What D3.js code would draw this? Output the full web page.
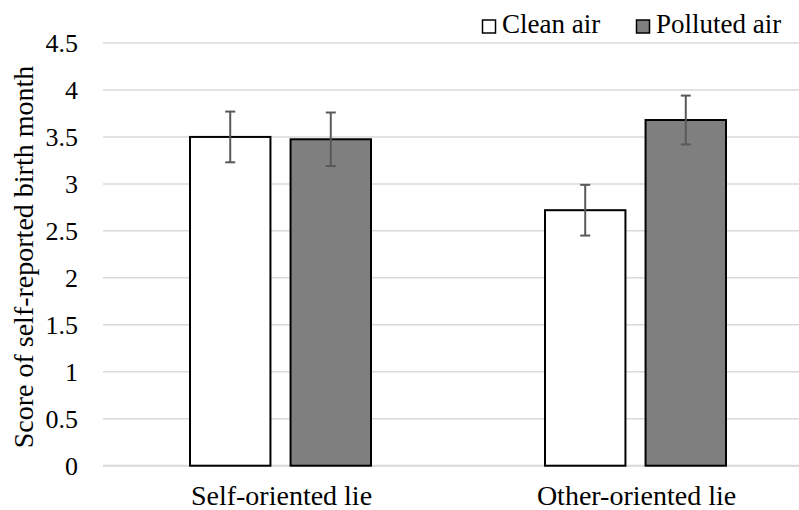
<!DOCTYPE html>
<html>
<head>
<meta charset="utf-8">
<script src="https://cdn.jsdelivr.net/npm/d3@7/dist/d3.min.js"></script>
<style>
  body { margin: 0; background: #fff; }
</style>
</head>
<body>
<div id="chart"></div>
<script>
var categories = ["Self-oriented lie", "Other-oriented lie"];
var series = ["Clean air", "Polluted air"];
var cleanAir = [3.50, 2.72];
var pollutedAir = [3.475, 3.68];
var cleanErr = [0.27, 0.27];
var pollutedErr = [0.285, 0.26];
var yTicks = [0, 0.5, 1, 1.5, 2, 2.5, 3, 3.5, 4, 4.5];
var fills = ["#ffffff", "#7f7f7f"];

var width = 799, height = 510;

var svg = d3.select("#chart")
  .append("svg")
  .attr("width", width)
  .attr("height", height);

var y = d3.scaleLinear()
  .domain([0, 4.5])
  .range([465.7, 43]);

// plot area runs off the right edge like in the source figure
var x0 = d3.scaleBand()
  .domain(categories)
  .range([103, 813]);

var x1 = d3.scaleBand()
  .domain(series)
  .range([x0.bandwidth() / 2 - 90.5, x0.bandwidth() / 2 + 90.5])
  .paddingInner(0.2);

// gridlines
svg.append("g")
  .selectAll("line.grid")
  .data(yTicks)
  .enter()
  .append("line")
  .attr("class", "grid")
  .attr("x1", 103)
  .attr("x2", width)
  .attr("y1", function(d){ return y(d); })
  .attr("y2", function(d){ return y(d); })
  .attr("stroke", "#d9d9d9")
  .attr("stroke-width", function(d){ return d == 0 ? 2 : 1.5; });

// y axis labels
var yAxis = d3.axisLeft(y)
  .tickValues(yTicks)
  .tickSize(0)
  .tickPadding(0)
  .tickFormat(d3.format(""));

var yg = svg.append("g")
  .attr("transform", "translate(78,0)")
  .call(yAxis);
yg.select(".domain").remove();
yg.selectAll("text")
  .attr("style", "font-family: 'Liberation Serif', serif; font-size: 26px")
  .attr("fill", "#000")
  .attr("dy", "0.34em");

// y title
svg.append("text")
  .attr("transform", "translate(33,257) rotate(-90)")
  .attr("text-anchor", "middle")
  .style("font-family", "serif")
  .style("font-size", "28px")
  .style("fill", "#000")
  .text("Score of self-reported birth month");

var rows = categories.map(function(c, i){
  return {
    cat: c,
    vals: [
      { s: series[0], v: cleanAir[i], e: cleanErr[i] },
      { s: series[1], v: pollutedAir[i], e: pollutedErr[i] }
    ]
  };
});

var groups = svg.selectAll("g.cat")
  .data(rows)
  .enter()
  .append("g")
  .attr("class", "cat")
  .attr("transform", function(d){ return "translate(" + x0(d.cat) + ",0)"; });

groups.selectAll("rect.bars")
  .data(function(d){ return d.vals; })
  .enter()
  .append("rect")
  .attr("class", "bars")
  .attr("x", function(d){ return x1(d.s); })
  .attr("width", x1.bandwidth())
  .attr("y", function(d){ return y(d.v); })
  .attr("height", function(d){ return y(0) - y(d.v); })
  .attr("fill", function(d, i){ return fills[i]; })
  .attr("stroke", "#000")
  .attr("stroke-width", 2);

// error bars
var err = groups.selectAll("g.err")
  .data(function(d){ return d.vals; })
  .enter()
  .append("g")
  .attr("class", "err")
  .attr("stroke", "#595959")
  .attr("stroke-width", 2);

err.append("line")
  .attr("x1", function(d){ return x1(d.s) + x1.bandwidth() / 2; })
  .attr("x2", function(d){ return x1(d.s) + x1.bandwidth() / 2; })
  .attr("y1", function(d){ return y(d.v + d.e); })
  .attr("y2", function(d){ return y(d.v - d.e); });

err.selectAll("line.cap")
  .data(function(d){ return [d.v + d.e, d.v - d.e].map(function(v){ return { s: d.s, v: v }; }); })
  .enter()
  .append("line")
  .attr("class", "cap")
  .attr("x1", function(d){ return x1(d.s) + x1.bandwidth() / 2 - 5; })
  .attr("x2", function(d){ return x1(d.s) + x1.bandwidth() / 2 + 5; })
  .attr("y1", function(d){ return y(d.v); })
  .attr("y2", function(d){ return y(d.v); });

// category labels
svg.selectAll("text.catlabel")
  .data(categories)
  .enter()
  .append("text")
  .attr("class", "catlabel")
  .attr("x", function(d){ return x0(d) + x0.bandwidth() / 2 + 1; })
  .attr("y", 505)
  .attr("text-anchor", "middle")
  .style("font-family", "'Liberation Serif'")
  .style("font-size", "28px")
  .style("fill", "#000")
  .text(function(d){ return d; });

// legend
var legendX = [482, 636];
var legend = svg.selectAll("g.legend")
  .data(series)
  .enter()
  .append("g")
  .attr("class", "legend")
  .attr("transform", function(d, i){ return "translate(" + legendX[i] + ",0)"; });

legend.append("rect")
  .attr("x", 0.5)
  .attr("y", 20)
  .attr("width", 13)
  .attr("height", 13)
  .attr("fill", function(d, i){ return fills[i]; })
  .attr("stroke", "#000")
  .attr("stroke-width", 1.5);

legend.append("text")
  .attr("x", 20)
  .attr("y", 33)
  .style("font-family", "'Times New Roman'")
  .style("font-size", "27px")
  .style("fill", "#000")
  .text(function(d){ return d; });
</script>
</body>
</html>
